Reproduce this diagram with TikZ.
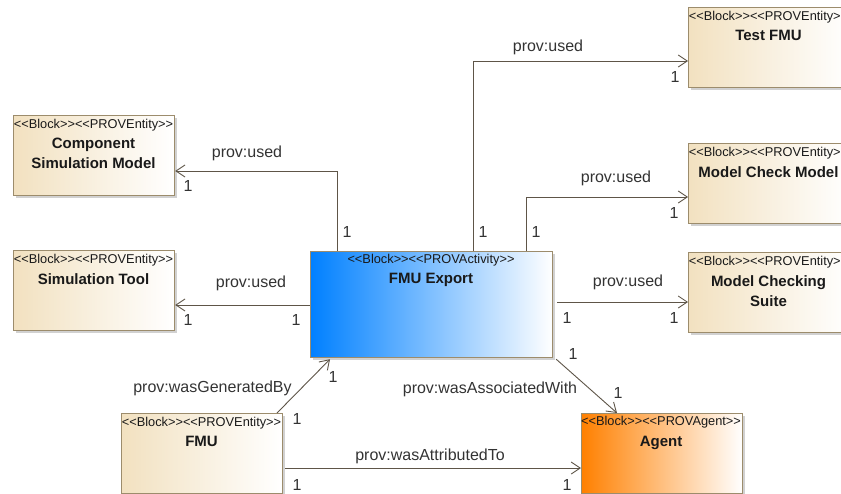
\documentclass[tikz,border=0pt]{standalone}
\usepackage{fontspec}
\setmainfont{Liberation Sans}
\usetikzlibrary{arrows.meta,shadows}
\definecolor{edgec}{HTML}{9C8C6C}
\definecolor{beige}{HTML}{F2E1C0}
\definecolor{linec}{HTML}{5E5548}
\definecolor{lblc}{HTML}{333333}
\definecolor{blueA}{HTML}{0080FF}
\definecolor{orangeA}{HTML}{FF8000}
\newcommand\stl{<{}<}
\newcommand\str{>{}>}
\tikzset{
  box/.style={draw=edgec, line width=1.2pt, minimum width=161pt, minimum height=80pt,
    anchor=north west, inner sep=0pt,
    drop shadow={shadow xshift=2pt, shadow yshift=-2pt, fill=black!40, opacity=0.45}},
  entity/.style={box, left color=beige, right color=white},
  stereo/.style={font=\fontsize{12.8}{14}\selectfont, anchor=base, inner sep=0pt, text=black!90},
  nm/.style={font=\bfseries\fontsize{15}{20}\selectfont, align=center, anchor=north, inner sep=0pt, text=black!90},
  lab/.style={font=\fontsize{16}{18}\selectfont, text=lblc, inner sep=0pt},
  conn/.style={draw=linec, line width=0.9pt,
    -{Straight Barb[length=9pt,width=12pt,line width=0.9pt]}}
}
\begin{document}
\begin{tikzpicture}[x=1pt,y=-1pt]
\useasboundingbox (0,0) rectangle (841,493);
\clip (0,0) rectangle (841,493);
% boxes
\node[entity] (csm) at (13,115) {};
\node[entity] (st) at (13,250) {};
\node[entity] (tf) at (688,7) {};
\node[entity] (mcm) at (688,143) {};
\node[entity] (mcs) at (688,252) {};
\node[entity] (fmu) at (121,413) {};
\node[box, left color=orangeA, right color=white] (ag) at (581,413) {};
\node[box, minimum width=242pt, minimum height=106pt, left color=blueA, right color=white] (exp) at (310,251) {};
% texts
\node[stereo] (csm-s) at (93.5,128.5) {\stl Block\str\stl PROVEntity\str};
\node[nm] (csm-n) at (93.5,138.3) {Component\\Simulation Model};
\node[stereo] (st-s) at (93.5,263.5) {\stl Block\str\stl PROVEntity\str};
\node[nm] (st-n) at (93.5,273.3) {Simulation Tool};
\node[stereo] (tf-s) at (768.5,20.5) {\stl Block\str\stl PROVEntity\str};
\node[nm] (tf-n) at (768.5,30.3) {Test FMU};
\node[stereo] (mcm-s) at (768.5,156.5) {\stl Block\str\stl PROVEntity\str};
\node[nm] (mcm-n) at (768.5,166.3) {Model Check Model};
\node[stereo] (mcs-s) at (768.5,265.5) {\stl Block\str\stl PROVEntity\str};
\node[nm] (mcs-n) at (768.5,275.3) {Model Checking\\Suite};
\node[stereo] (fmu-s) at (201.5,426.5) {\stl Block\str\stl PROVEntity\str};
\node[nm] (fmu-n) at (201.5,436.3) {FMU};
\node[stereo] (ag-s) at (661,425.5) {\stl Block\str\stl PROVAgent\str};
\node[nm] (ag-n) at (661,435.5) {Agent};
\node[stereo] (exp-s) at (431,263.5) {\stl Block\str\stl PROVActivity\str};
\node[nm] (exp-n) at (431,272.5) {FMU Export};
% connectors
\draw[conn] ([xshift=27pt]exp.north west) |- (csm.east |- 0,171);
\draw[conn] (exp.west |- 0,305) -- (st.east |- 0,305);
\draw[conn] ([xshift=163pt]exp.north west) |- (tf.west |- 0,61);
\draw[conn] ([xshift=216pt]exp.north west) |- (mcm.west |- 0,197);
\draw[conn] ([xshift=4pt]exp.east |- 0,302) -- (mcs.west |- 0,302);
\draw[conn] ([xshift=156pt]fmu.north west) -- ([xshift=20pt,yshift=-1pt]exp.south west);
\draw[conn] ([xshift=3pt,yshift=-1pt]exp.south east) -- ([xshift=36pt]ag.north west);
\draw[conn] ([xshift=2pt]fmu.east |- 0,468) -- (ag.west |- 0,468);
% labels
\node[lab] (l1) at (247,153) {prov:used};
\node[lab] (l2) at (251,283) {prov:used};
\node[lab] (l3) at (548,47) {prov:used};
\node[lab] (l4) at (616,178) {prov:used};
\node[lab] (l5) at (628,282) {prov:used};
\node[lab] (l6) at (212.5,388) {prov:wasGeneratedBy};
\node[lab] (l7) at (490,389) {prov:wasAssociatedWith};
\node[lab] (l8) at (430,456) {prov:wasAttributedTo};
% multiplicities
\node[lab] (m1) at (188,186) {1};
\node[lab] (m2) at (347,232) {1};
\node[lab] (m3) at (188,320) {1};
\node[lab] (m4) at (296,320) {1};
\node[lab] (m5) at (675,77) {1};
\node[lab] (m6) at (483,232) {1};
\node[lab] (m7) at (674,213) {1};
\node[lab] (m8) at (536,232) {1};
\node[lab] (m9) at (674,318) {1};
\node[lab] (m10) at (567,318) {1};
\node[lab] (m11) at (333,377) {1};
\node[lab] (m12) at (297,419) {1};
\node[lab] (m13) at (573,354) {1};
\node[lab] (m14) at (618,393) {1};
\node[lab] (m15) at (297,485) {1};
\node[lab] (m16) at (567,485) {1};
\end{tikzpicture}
\end{document}
